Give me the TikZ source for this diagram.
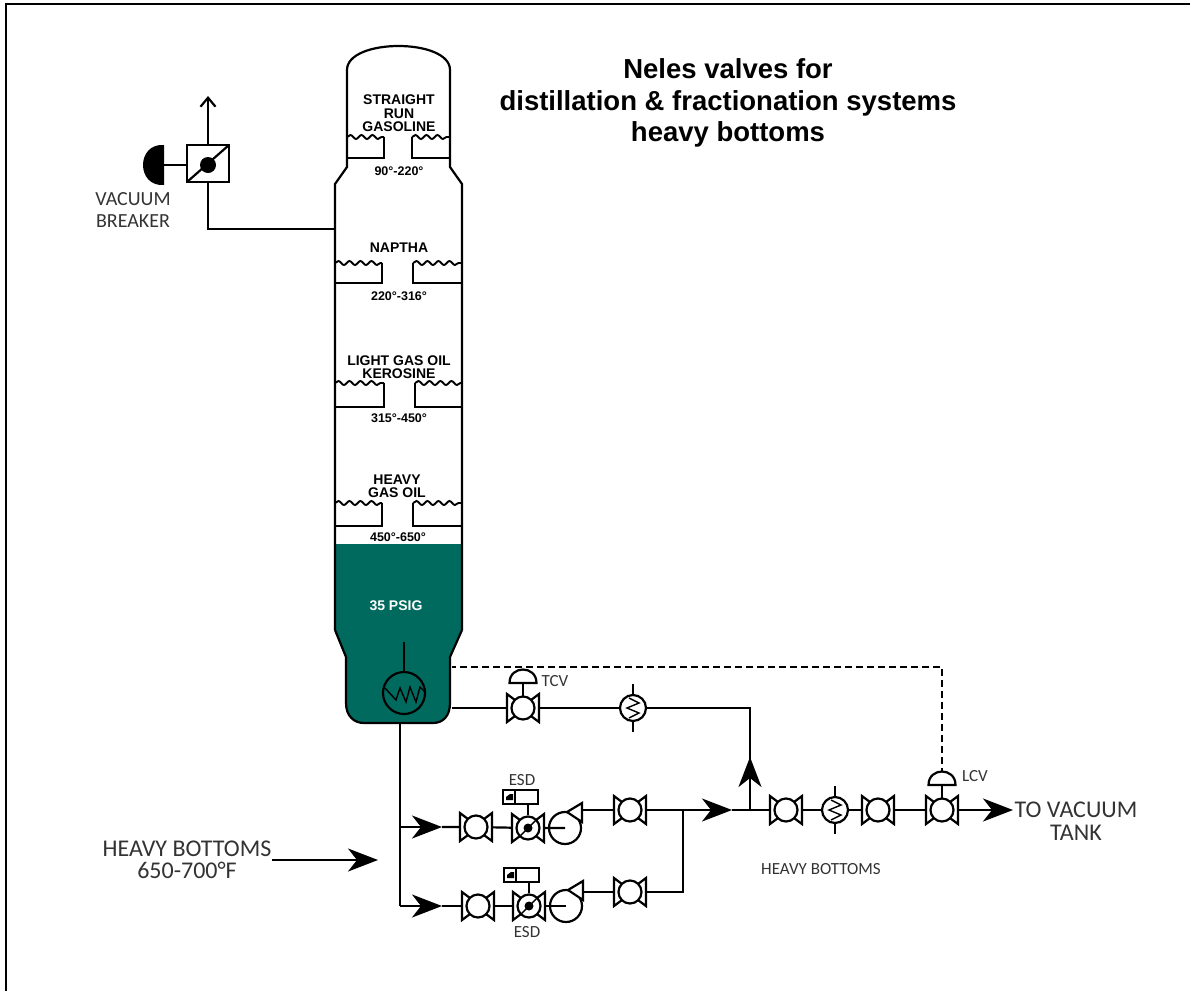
\documentclass[tikz,border=0pt]{standalone}
\usepackage{fontspec}
\setmainfont{Liberation Sans}
\newfontfamily\plantfont{Carlito}
\usetikzlibrary{arrows.meta,calc,decorations.pathmorphing}
\definecolor{bottomsgreen}{HTML}{006A5F}
\definecolor{labelgrey}{HTML}{333333}
\tikzset{
  pipe/.style={line width=2.2pt},
  thinpipe/.style={line width=1.4pt},
  flowtip/.style={-{Stealth[length=30pt,width=23pt,inset=9pt]}},
  traywave/.style={line width=1.9pt, decorate, decoration={snake,amplitude=2pt,segment length=11pt}},
  traylabel/.style={font=\bfseries\fontsize{14}{13.5}\selectfont, align=center, inner sep=0pt},
  templabel/.style={font=\bfseries\fontsize{12.5}{13}\selectfont, inner sep=0pt},
  biglabel/.style={font=\plantfont\fontsize{20}{22.5}\selectfont, align=center, text=labelgrey, inner sep=0pt},
  flowlabel/.style={font=\plantfont\fontsize{24}{22.5}\selectfont, align=center, text=labelgrey, inner sep=0pt},
  smalllabel/.style={font=\plantfont\fontsize{17}{15}\selectfont, align=center, text=labelgrey, inner sep=0pt},
  valve/.pic={
    \draw[pipe, fill=white] (-16,-14) -- (-16,14) -- (-8,8) -- (-8,-8) -- cycle;
    \draw[pipe, fill=white] (16,-14) -- (16,14) -- (8,8) -- (8,-8) -- cycle;
    \draw[pipe, fill=white] (0,0) circle (11.5);
  },
  esdvalve/.pic={
    \draw[pipe, fill=white] (-16,-14) -- (-16,14) -- (-8,8) -- (-8,-8) -- cycle;
    \draw[pipe, fill=white] (16,-14) -- (16,14) -- (8,8) -- (8,-8) -- cycle;
    \draw[pipe, fill=white] (0,0) circle (11.5);
    \draw[thinpipe] (-8,8) -- (8,-8);
    \fill (0,0) circle (4.5);
  },
  cooler/.pic={
    \draw[pipe] (0,-24) -- (0,-12) (0,12) -- (0,24);
    \draw[pipe, fill=white] (0,0) circle (13);
    \draw[thinpipe] (-4,-10) -- (6,-5) -- (-6,0) -- (6,5) -- (-4,10);
  },
  diaphragm/.pic={
    \draw[pipe] (0,0) -- (0,-14);
    \draw[pipe, fill=white] (-13.5,-14) .. controls (-13.5,-32) and (13.5,-32) .. (13.5,-14) -- cycle;
  },
  pump/.pic={
    \draw[pipe] (-17,0) -- (0,0);
    \draw[pipe] (0,0) circle (16);
    \draw[pipe, fill=white] (17,-25) -- (17,-6) -- (2,-16) -- cycle;
  },
  esdbox/.pic={
    \draw[pipe] (0,0) -- (0,11);
    \draw[pipe] (-25,-14) rectangle (10,0);
    \draw[pipe] (-13,-14) -- (-13,0);
    \fill (-22,-7) -- (-18,-10) -- (-15,-10) -- (-15,-4) -- (-22,-4) -- cycle;
  }
}
\begin{document}
\begin{tikzpicture}[x=1pt, y=-1pt]
  \useasboundingbox (0,0) rectangle (1190,991);
  \draw[line width=2.5pt] (6,991) -- (6,4) -- (1190,4);
  \node[font=\bfseries\fontsize{27.5}{31.5}\selectfont, align=center, inner sep=0pt] (title) at (728,103)
    {Neles valves for\\distillation \& fractionation systems\\heavy bottoms};

  \fill[bottomsgreen] (335,544) -- (462,544) -- (462,630) -- (450,657) -- (450,703)
    .. controls (450,716) and (443,723) .. (433,723) -- (364,723)
    .. controls (354,723) and (346,716) .. (346,703) -- (346,657) -- (335,630) -- cycle;
  \draw[pipe] (335,630) -- (335,184) -- (347,167) -- (347,70)
    .. controls (347,38) and (450,38) .. (450,70) -- (450,167) -- (462,184) -- (462,630);
  \draw[pipe] (335,630) -- (346,657) -- (346,703)
    .. controls (346,716) and (354,723) .. (364,723) -- (433,723)
    .. controls (443,723) and (450,716) .. (450,703) -- (450,657) -- (462,630);

  \foreach \yt/\yb/\xl/\xi/\xj/\xr in {137/158/347/384/412/450, 263/283/335/382/413/462,
      383/407/335/384/415/462, 503/526/335/382/413/462} {
    \draw[pipe] (\xl,\yb) -- (\xi,\yb) -- (\xi,\yt);
    \draw[pipe] (\xr,\yb) -- (\xj,\yb) -- (\xj,\yt);
    \draw[traywave] (\xl,\yt) -- (\xi,\yt);
    \draw[traywave] (\xj,\yt) -- (\xr,\yt);
  }
  \node[traylabel] (gasoline) at (399,113.5) {STRAIGHT\\RUN\\GASOLINE};
  \node[traylabel] (naptha) at (399,248) {NAPTHA};
  \node[traylabel] (kerosine) at (399,367) {LIGHT GAS OIL\\KEROSINE};
  \node[traylabel] (gasoil) at (397,486) {HEAVY\\GAS OIL};
  \foreach \x/\y/\t in {399/171/90°-220°, 399/296/220°-316°, 399/418/315°-450°, 398/537/450°-650°}
    \node[templabel] at (\x,\y) {\t};
  \node[traylabel, text=white] (psig) at (396,606) {35 PSIG};

  \coordinate (breaker) at (208,165);
  \coordinate (vent) at (208,96);
  \coordinate (elbow) at (208,229);
  \coordinate (wall) at (335,229);
  \draw[pipe] (breaker) -- (elbow) -- (wall);
  \draw[pipe, -{Straight Barb[length=9pt,width=15pt]}] (breaker) -- (vent);
  \draw[pipe] (150,165) -- (breaker);
  \draw[pipe, fill=white] (187,145) rectangle (229,182);
  \draw[pipe] (187,182) -- (229,145);
  \fill (breaker) circle (8);
  \fill (164,145) .. controls (136,143) and (136,187) .. (164,185) -- cycle;
  \node[biglabel] (vacuum) at (133,210) {VACUUM\\BREAKER};

  \draw[thinpipe] (404,642) -- (404,672);
  \draw[pipe, fill=bottomsgreen] (404,693) circle (21);
  \draw[thinpipe] (385,688) -- (396,700) -- (400,688) -- (406,702) -- (410,687) -- (416,702) -- (420,687) -- (425,692);

  \coordinate (tcv) at (523,708);
  \coordinate (hot) at (633,708);
  \coordinate (riser) at (750,708);
  \coordinate (tee) at (750,810);
  \coordinate (branch) at (400,827);
  \coordinate (leg) at (400,906);
  \coordinate (upper) at (476,827);
  \coordinate (lower) at (478,906);
  \coordinate (upperesd) at (528,828);
  \coordinate (loweresd) at (529,906);
  \coordinate (upperpump) at (565,828);
  \coordinate (lowerpump) at (566,906);
  \coordinate (uppergate) at (630,810);
  \coordinate (lowergate) at (630,892);
  \coordinate (header) at (683,810);
  \coordinate (return) at (683,892);
  \coordinate (gatea) at (786,810);
  \coordinate (cool) at (835,810);
  \coordinate (gateb) at (878,810);
  \coordinate (lcv) at (942,810);
  \coordinate (lcvtop) at (942,775);
  \coordinate (signal) at (942,667);
  \coordinate (signalend) at (452,667);

  \draw[pipe] (452,708) -- (tcv) -- (hot) -- (riser) -- (tee);
  \draw[pipe, flowtip] (tee) -- (750,757);
  \draw[pipe] (400,723) -- (leg);
  \draw[pipe, flowtip] (branch) -- (442,827);
  \draw[pipe, flowtip] (leg) -- (442,906);
  \draw[pipe] (442,827) -- (upper) -- (upperesd) -- (upperpump);
  \draw[pipe] (442,906) -- (lower) -- (loweresd) -- (lowerpump);
  \draw[pipe] (582,810) -- (uppergate) -- (header);
  \draw[pipe] (582,892) -- (lowergate) -- (return) -- (header);
  \draw[pipe, flowtip] (header) -- (732,810);
  \draw[pipe] (732,810) -- (tee) -- (gatea) -- (cool) -- (gateb) -- (lcv);
  \draw[pipe, flowtip] (lcv) -- (1013,810);
  \draw[pipe, dash pattern=on 7pt off 4pt] (lcvtop) -- (signal) -- (signalend);

  \foreach \v in {tcv, upper, lower, uppergate, lowergate, gatea, gateb, lcv}
    \pic at (\v) {valve};
  \foreach \v in {upperesd, loweresd} {
    \pic at (\v) {esdvalve};
    \pic at ($(\v)+(0,-24)$) {esdbox};
  }
  \foreach \v in {hot, cool}
    \pic at (\v) {cooler};
  \foreach \v in {upperpump, lowerpump}
    \pic at (\v) {pump};
  \foreach \v in {tcv, lcv}
    \pic at ($(\v)+(0,-11)$) {diaphragm};

  \node[smalllabel] (tcvlabel) at (555,681) {TCV};
  \node[smalllabel] (lcvlabel) at (975,776) {LCV};
  \node[smalllabel] (esdtop) at (522,780) {ESD};
  \node[smalllabel] (esdbottom) at (527,932) {ESD};
  \node[smalllabel] (heavy) at (821,869) {HEAVY BOTTOMS};
  \node[flowlabel] (tank) at (1076,821) {TO VACUUM\\TANK};
  \node[flowlabel] (feed) at (187,860) {HEAVY BOTTOMS\\650-700°F};
  \coordinate (feedend) at (272,860);
  \coordinate (feedtip) at (378,860);
  \draw[pipe, flowtip] (feedend) -- (feedtip);
\end{tikzpicture}
\end{document}
